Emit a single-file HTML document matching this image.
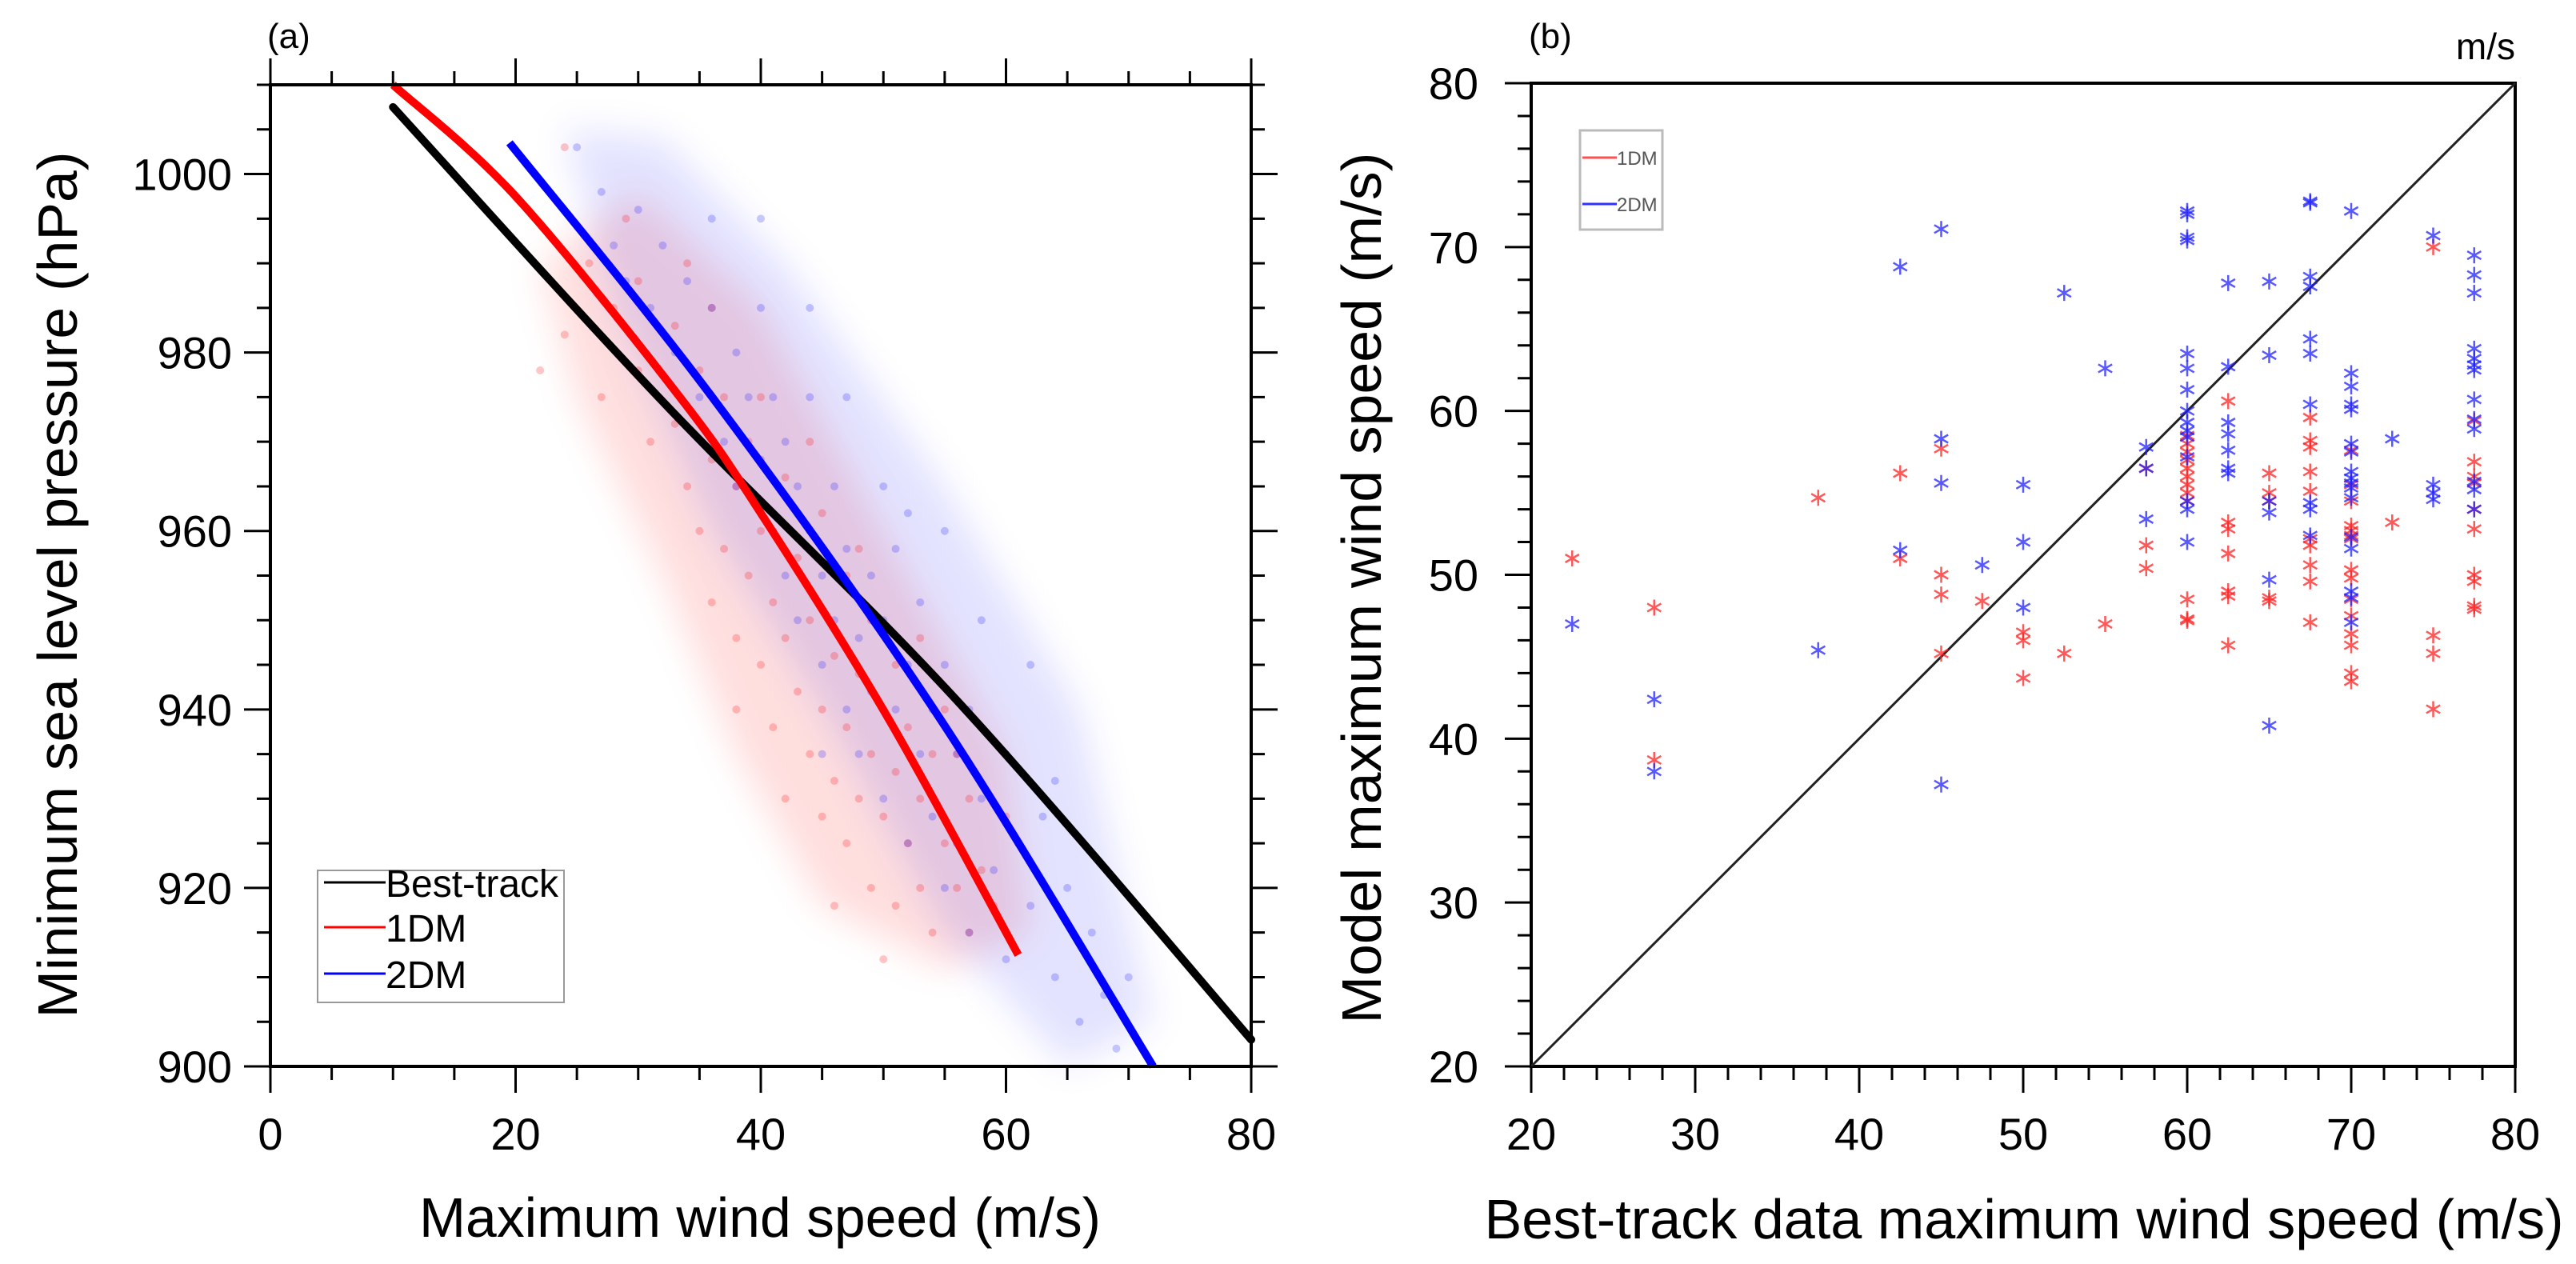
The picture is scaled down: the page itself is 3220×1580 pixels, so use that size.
<!DOCTYPE html>
<html><head><meta charset="utf-8"><style>
html,body{margin:0;padding:0;background:#fff;}
svg{display:block;font-family:"Liberation Sans",Arial,sans-serif;}
</style></head><body>
<svg id="fig" width="3220" height="1580" viewBox="0 0 3220 1580" xmlns="http://www.w3.org/2000/svg">
<defs><filter id="blur" x="-20%" y="-20%" width="140%" height="140%"><feGaussianBlur stdDeviation="22"/></filter></defs>
<g id="pa"></g>
<g id="pb"></g>
</svg>
<script>
// ---------- Panel (a) data ----------
const aXTicks = [0, 20, 40, 60, 80];
const aYTicks = [900, 920, 940, 960, 980, 1000];
const bestTrackCurve = [[10,1007.5],[32,974.5],[56,941],[80,903]];
const dm1Curve = [[10,1010],[20,997.5],[33.4,975],[40,962],[50.4,939],[61,912.5]];
const dm2Curve = [[19.5,1003.5],[36.2,974.7],[54.7,938.8],[72,900]];
const dm1Haze = [[22,990],[30,998],[40,985],[50,960],[60,935],[62,915],[55,911],[45,918],[38,935],[32,955],[25,975]];
const dm2Haze = [[24,1005],[32,1004],[42,990],[55,965],[66,940],[72,905],[65,900],[55,915],[45,940],[36,960],[28,985]];
const dm1Cloud = [[22,978],[24,982],[26,990],[28,985],[27,975],[30,988],[30,978],[31,970],[33,983],[33,972],[34,965],[35,978],[35,960],[36,968],[36,952],[37,975],[37,958],[38,965],[38,948],[39,955],[39,970],[40,945],[40,960],[41,952],[41,938],[42,966],[42,948],[43,942],[43,957],[44,935],[44,950],[45,962],[45,940],[45,928],[46,946],[46,932],[47,955],[47,938],[47,925],[48,944],[48,930],[49,935],[49,950],[49,920],[50,940],[50,928],[51,945],[51,933],[51,918],[52,925],[52,938],[53,930],[53,920],[54,935],[54,915],[55,925],[55,940],[56,920],[57,930],[57,915],[58,922],[59,918],[60,928],[44,970],[40,975],[34,990],[29,995],[24,1003],[48,958],[53,948],[56,935],[38,940],[42,930],[46,918],[50,912],[36,985]];
const dm2Cloud = [[25,1003],[27,998],[28,992],[29,988],[30,996],[31,985],[32,992],[33,980],[34,988],[35,975],[36,985],[37,970],[38,980],[38,965],[39,975],[40,968],[40,985],[41,960],[41,975],[42,970],[42,955],[43,965],[43,950],[44,960],[44,975],[45,955],[45,945],[46,965],[46,950],[47,940],[47,958],[48,948],[48,935],[49,955],[49,942],[50,950],[50,930],[51,958],[51,940],[52,945],[52,925],[53,952],[53,935],[54,940],[54,928],[55,945],[55,920],[56,935],[56,925],[57,940],[57,915],[58,930],[59,922],[60,935],[60,912],[61,925],[62,918],[63,928],[64,910],[65,920],[66,905],[67,915],[68,908],[69,902],[70,910],[58,950],[55,960],[62,945],[47,975],[50,965],[44,985],[36,995],[40,995],[52,962],[64,932],[45,935]];

// ---------- Panel (b) data ----------
const bXTicks = [20,30,40,50,60,70,80];
const bYTicks = [20,30,40,50,60,70,80];
const dm1Obs = [22.5,27.5,27.5,37.5,42.5,42.5,45,45,45,45,47.5,50,50,50,52.5,55,57.5,57.5,57.5,
 60,60,60,60,60,60,60,60,60,60,60,60,
 62.5,62.5,62.5,62.5,62.5,62.5,62.5,
 65,65,65,65,65,
 67.5,67.5,67.5,67.5,67.5,67.5,67.5,67.5,67.5,67.5,
 70,70,70,70,70,70,70,70,70,70,70,70,70,70,70,
 72.5,75,75,75,75,
 77.5,77.5,77.5,77.5,77.5,77.5,77.5,77.5,77.5,77.5];
const dm1Model = [51,48,38.7,54.7,56.2,51,57.7,50,48.8,45.2,48.4,46.5,46,43.7,45.2,47,56.5,51.8,50.4,
 58.5,58,57.5,57,56.5,56,55.5,55,54.5,48.5,47.3,47.2,
 60.6,53.2,52.8,51.3,49,48.7,45.7,
 56.2,55,54.5,48.6,48.4,
 59.6,58.2,57.8,56.3,55.1,52.2,51.8,50.6,49.6,47.1,
 57.6,55.5,54.5,53,52.7,52.4,52.2,50.3,49.8,48.5,47.5,46.4,45.7,44,43.5,
 53.2,70,46.3,45.2,41.8,
 59.4,56.9,56,55.6,54,52.8,50,49.6,48.1,47.9];
const dm2Obs = [22.5,27.5,27.5,37.5,42.5,42.5,45,45,45,45,47.5,50,50,50,52.5,55,57.5,57.5,57.5,
 60,60,60,60,60,60,60,60,60,60,60,60,60,60,60,
 62.5,62.5,62.5,62.5,62.5,62.5,62.5,
 65,65,65,65,65,65,
 67.5,67.5,67.5,67.5,67.5,67.5,67.5,67.5,67.5,67.5,
 70,70,70,70,70,70,70,70,70,70,70,70,70,70,70,70,70,
 72.5,75,75,75,75,
 77.5,77.5,77.5,77.5,77.5,77.5,77.5,77.5,77.5,77.5,77.5,77.5,77.5];
const dm2Model = [47,42.4,38,45.4,68.8,51.5,71.1,58.3,55.6,37.2,50.6,55.5,52,48,67.2,62.6,57.8,56.5,53.4,
 72.2,72,70.6,70.4,63.5,62.6,61.3,60,59.3,58.8,58.4,57.2,54.5,54,52,
 67.8,62.7,59.3,58.6,57.6,56.5,56.2,
 67.9,63.4,54.5,53.8,49.7,40.8,
 72.8,72.7,68.2,67.6,64.4,63.5,60.4,54.4,54,52.4,
 72.2,62.3,61.5,60.4,60.1,58,57.5,56.3,55.9,55.6,55.3,54.7,52.3,51.6,49,48.6,47.1,
 58.3,70.7,55.5,55,54.6,
 69.5,68.3,67.2,63.8,63.2,62.8,62.5,60.7,59.5,58.9,55.7,55.2,54];

const NS='http://www.w3.org/2000/svg';
function mk(parent, tag, attrs, text){
  const e=document.createElementNS(NS,tag);
  for(const k in attrs) e.setAttribute(k,attrs[k]);
  if(text!==undefined) e.textContent=text;
  parent.appendChild(e); return e;
}

// ===== Panel A =====
const pa=document.getElementById('pa');
const aL=338,aR=1564,aT=106,aB=1333;
const ax=v=>aL+(v-0)/80*(aR-aL);
const ay=v=>aB-(v-900)/110*(aB-aT);

const gc=mk(pa,'g',{});


const h1=mk(gc,'polygon',{points:dm1Haze.map(p=>ax(p[0])+','+ay(p[1])).join(' '),fill:'#ff0000','fill-opacity':0.13,filter:'url(#blur)'});


const h2=mk(gc,'polygon',{points:dm2Haze.map(p=>ax(p[0])+','+ay(p[1])).join(' '),fill:'#0000ff','fill-opacity':0.11,filter:'url(#blur)'});


dm1Cloud.forEach(p=>{
  const c=mk(gc,'circle',{cx:ax(p[0]),cy:ay(p[1]),r:5,fill:'#ff0000','fill-opacity':0.22});
  
  
});
dm2Cloud.forEach(p=>{
  const c=mk(gc,'circle',{cx:ax(p[0]),cy:ay(p[1]),r:5,fill:'#0000ff','fill-opacity':0.2});
  
  
});

function smoothPath(pts,fx,fy){
  const P=pts.map(p=>[fx(p[0]),fy(p[1])]);
  let d='M'+P[0][0]+','+P[0][1];
  for(let i=0;i<P.length-1;i++){
    const p0=P[i-1]||P[i],p1=P[i],p2=P[i+1],p3=P[i+2]||P[i+1];
    const c1=[p1[0]+(p2[0]-p0[0])/6,p1[1]+(p2[1]-p0[1])/6];
    const c2=[p2[0]-(p3[0]-p1[0])/6,p2[1]-(p3[1]-p1[1])/6];
    d+=` C${c1[0]},${c1[1]} ${c2[0]},${c2[1]} ${p2[0]},${p2[1]}`;
  }
  return d;
}
const lb=mk(pa,'path',{d:smoothPath(bestTrackCurve,ax,ay),stroke:'#000',fill:'none','stroke-width':10,'stroke-linecap':'round'});


const l1=mk(pa,'path',{d:smoothPath(dm1Curve,ax,ay),stroke:'#ff0000',fill:'none','stroke-width':10});


const l2=mk(pa,'path',{d:smoothPath(dm2Curve,ax,ay),stroke:'#0000ff',fill:'none','stroke-width':10});



const fa=mk(pa,'rect',{x:aL,y:aT,width:aR-aL,height:aB-aT,fill:'none',stroke:'#000','stroke-width':4});


for(let v=0;v<=80;v+=5){
  const maj=v%20===0, L=maj?33:17, X=ax(v);
  mk(pa,'line',{x1:X,y1:aB,x2:X,y2:aB+L,stroke:'#000','stroke-width':3});
  mk(pa,'line',{x1:X,y1:aT,x2:X,y2:aT-L,stroke:'#000','stroke-width':3});
}
for(let v=900;v<=1010;v+=5){
  const maj=v%20===0, L=maj?33:17, Y=ay(v);
  mk(pa,'line',{x1:aL,y1:Y,x2:aL-L,y2:Y,stroke:'#000','stroke-width':3});
  mk(pa,'line',{x1:aR,y1:Y,x2:aR+L,y2:Y,stroke:'#000','stroke-width':3});
}
aXTicks.forEach(v=>{
  const t=mk(pa,'text',{x:ax(v),y:1437,'font-size':56,'text-anchor':'middle'},String(v));
  
  
});
aYTicks.forEach(v=>{
  const t=mk(pa,'text',{x:290,y:ay(v)+20,'font-size':56,'text-anchor':'end'},String(v));
  
  
});
let t;
t=mk(pa,'text',{x:950,y:1546,'font-size':70,'text-anchor':'middle',textLength:852,lengthAdjust:'spacingAndGlyphs'},'Maximum wind speed (m/s)');


t=mk(pa,'text',{x:0,y:0,'font-size':70,'text-anchor':'middle',transform:'translate(96,731) rotate(-90)',textLength:1083,lengthAdjust:'spacingAndGlyphs'},'Minimum sea level pressure (hPa)');


t=mk(pa,'text',{x:334,y:60,'font-size':44},'(a)');



const lga=mk(pa,'g',{});


mk(lga,'rect',{x:397,y:1088,width:308,height:165,fill:'#fff',stroke:'#999','stroke-width':2});
[['Best-track','#000',1103],['1DM','#ff0000',1159],['2DM','#0000ff',1217]].forEach(e=>{
  const g=mk(lga,'g',{});
  
  
  mk(g,'line',{x1:405,y1:e[2],x2:482,y2:e[2],stroke:e[1],'stroke-width':3});
  mk(g,'text',{x:482,y:e[2]+18,'font-size':48},e[0]);
});

// ===== Panel B =====
const pb=document.getElementById('pb');
const bL=1914,bR=3144,bT=104,bB=1333;
const bx=v=>bL+(v-20)/60*(bR-bL);
const by=v=>bB-(v-20)/60*(bB-bT);

const fb=mk(pb,'rect',{x:bL,y:bT,width:bR-bL,height:bB-bT,fill:'none',stroke:'#000','stroke-width':4});


const dg=mk(pb,'line',{x1:bx(20),y1:by(20),x2:bx(80),y2:by(80),stroke:'#222','stroke-width':3});


for(let v=20;v<=80;v+=2){
  const maj=v%10===0, L=maj?33:17;
  mk(pb,'line',{x1:bx(v),y1:bB,x2:bx(v),y2:bB+L,stroke:'#000','stroke-width':3});
  mk(pb,'line',{x1:bL,y1:by(v),x2:bL-L,y2:by(v),stroke:'#000','stroke-width':3});
}
bXTicks.forEach(v=>{
  const t=mk(pb,'text',{x:bx(v),y:1437,'font-size':56,'text-anchor':'middle'},String(v));
  
  
});
bYTicks.forEach(v=>{
  const t=mk(pb,'text',{x:1848,y:by(v)+20,'font-size':56,'text-anchor':'end'},String(v));
  
  
});
function star(g,cx,cy,col){
  const r=10;
  let d='';
  for(let k=0;k<3;k++){
    const a=Math.PI/2+k*Math.PI/3;
    d+=`M${cx+r*Math.cos(a)},${cy+r*Math.sin(a)}L${cx-r*Math.cos(a)},${cy-r*Math.sin(a)}`;
  }
  return mk(g,'path',{d:d,stroke:col,'stroke-width':2.5,fill:'none'});
}
const g1=mk(pb,'g',{'stroke-opacity':0.75});


dm1Obs.forEach((o,i)=>{
  const s=star(g1,bx(o),by(dm1Model[i]),'#ff2020');
  
  
});
const g2=mk(pb,'g',{'stroke-opacity':0.75});


dm2Obs.forEach((o,i)=>{
  const s=star(g2,bx(o),by(dm2Model[i]),'#2020ff');
  
  
});
t=mk(pb,'text',{x:2530,y:1548,'font-size':70,'text-anchor':'middle',textLength:1349,lengthAdjust:'spacingAndGlyphs'},'Best-track data maximum wind speed (m/s)');


t=mk(pb,'text',{x:0,y:0,'font-size':70,'text-anchor':'middle',transform:'translate(1726,735) rotate(-90)',textLength:1089,lengthAdjust:'spacingAndGlyphs'},'Model maximum wind speed (m/s)');


t=mk(pb,'text',{x:1911,y:60,'font-size':44},'(b)');


t=mk(pb,'text',{x:3144,y:74,'font-size':46,'text-anchor':'end'},'m/s');



const lgb=mk(pb,'g',{});


mk(lgb,'rect',{x:1975,y:163,width:103,height:124,fill:'#fff',stroke:'#bbb','stroke-width':3});
[['1DM','#ff5050',197],['2DM','#3030ff',255]].forEach(e=>{
  const g=mk(lgb,'g',{});
  
  
  mk(g,'line',{x1:1978,y1:e[2],x2:2021,y2:e[2],stroke:e[1],'stroke-width':3});
  mk(g,'text',{x:2021,y:e[2]+9,'font-size':24,fill:'#555'},e[0]);
});
</script>
</body></html>
